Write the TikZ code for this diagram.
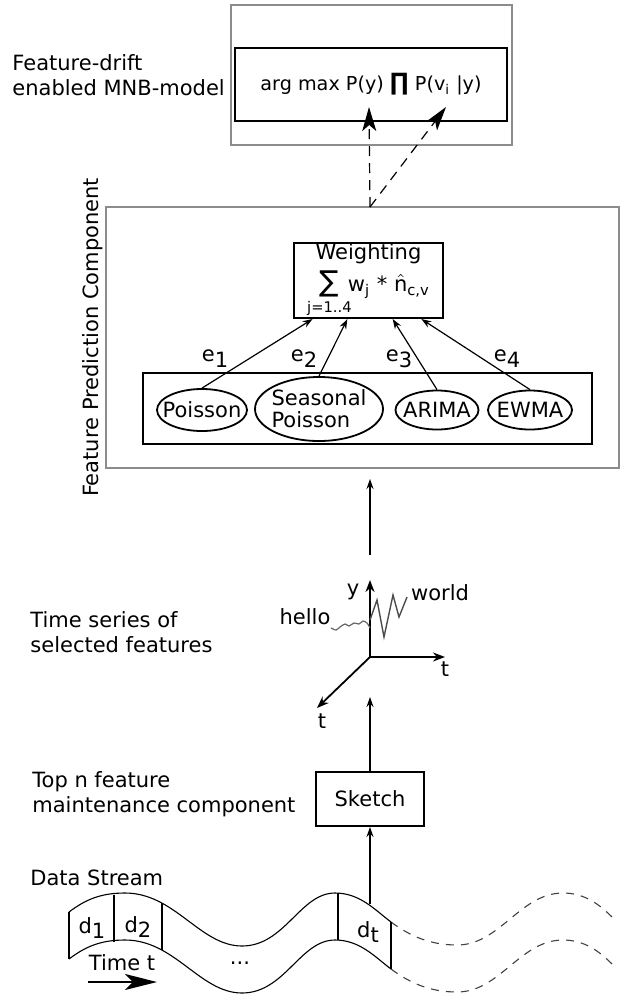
\documentclass[tikz,border=0pt]{standalone}
\usepackage{amsmath}
\usepackage{fontspec}
\setmainfont{DejaVu Sans}
\usetikzlibrary{arrows.meta,shapes.geometric,calc}

\newcommand{\lowsub}[1]{\raisebox{-.28em}{#1}}

\tikzset{
  box/.style={draw, line width=1pt, inner sep=0pt},
  frame/.style={draw=black!45, line width=0.6pt, inner sep=0pt},
  model/.style={draw, ellipse, line width=0.9pt, inner sep=0pt},
  flow/.style={-{Stealth[length=5pt,width=3.5pt]}, line width=0.6pt},
  axis/.style={-{Stealth[length=6pt,width=4.5pt]}, line width=0.9pt},
  drift/.style={-{Stealth[length=12pt,width=7pt,inset=3pt]}, dash pattern=on 5pt off 3.5pt, line width=0.6pt},
  stream/.style={line width=0.55pt},
  sidelabel/.style={align=left, anchor=west, inner sep=0pt}
}

\begin{document}
\begin{tikzpicture}[x=0.5pt,y=-0.5pt,font=\fontsize{10.5pt}{12.5pt}\selectfont]
\useasboundingbox (0,0) rectangle (621,996);

% classifier on top
\node[frame, minimum width=140.5pt, minimum height=70pt] (mnbframe) at (371.5,75) {};
\node[box, minimum width=136pt, minimum height=36.5pt, font=\fontsize{9.6pt}{11pt}\selectfont] (mnb) at (371,84.5)
  {arg max P(y) {\fontsize{12pt}{12pt}\selectfont\bfseries ∏} P(v\textsubscript{i} |y)};
\node[sidelabel] (mnblabel) at (12,75.5) {Feature-drift\\enabled MNB-model};

% feature prediction
\node[frame, minimum width=256.5pt, minimum height=130.5pt] (fpc) at (362.5,337.5) {};
\node[rotate=90, anchor=south, inner sep=1pt] (fpclabel) at (fpc.west) {Feature Prediction Component};
\node[box, minimum width=74.5pt, minimum height=37.5pt, align=center] (weight) at (368.5,280.5)
  {Weighting\\[2.5pt] $\mathop{\text{\Large ∑}}\limits_{\text{j=1..4}}\!$w$_{\text{j}}$ * $\hat{\text{n}}_{\text{c,v}}$};
\node[box, minimum width=224.5pt, minimum height=35.5pt] (models) at (367.5,408.5) {};
\node[model, minimum width=45pt, minimum height=21pt, label=center:Poisson] (poisson) at (202,410) {};
\node[model, minimum width=64pt, minimum height=32pt,
  label={[align=left, font=\fontsize{10.5pt}{11pt}\selectfont]center:Seasonal\\Poisson}] (seasonal) at (319,409) {};
\node[model, minimum width=41.5pt, minimum height=19.5pt, label=center:ARIMA] (arima) at (437,410) {};
\node[model, minimum width=42pt, minimum height=19.5pt, label=center:EWMA] (ewma) at (530,410) {};

\draw[flow] (poisson.north) -- ($(weight.south west)!.13!(weight.south east)$);
\draw[flow] (seasonal.north) -- ($(weight.south west)!.36!(weight.south east)$);
\draw[flow] (arima.north) -- ($(weight.south west)!.66!(weight.south east)$);
\draw[flow] (ewma.north) -- ($(weight.south west)!.85!(weight.south east)$);
\node (e1) at (215,359) {e\lowsub{1}};
\node (e2) at (304,359) {e\lowsub{2}};
\node (e3) at (399,359) {e\lowsub{3}};
\node (e4) at (507,359) {e\lowsub{4}};

\coordinate (fpctop) at (370,207);
\coordinate (tipy) at (369,107);
\coordinate (tipv) at (446,107);
\draw[drift] (fpctop) -- (tipy);
\draw[drift] (fpctop) -- (tipv);

% time series
\node[sidelabel] (tslabel) at (30,632) {Time series of\\selected features};
\coordinate (O) at (370,657);
\draw[axis] (O) -- (370,580);
\draw[axis] (O) -- (445,657);
\draw[axis] (O) -- (317,708);
\node (ylab) at (353,592) {y};
\node (tlab) at (445,669) {t};
\node (tdlab) at (322,721) {t};
\node (hello) at (305,617) {hello};
\node (world) at (440,593) {world};
\draw[black!60, line width=0.6pt] plot[smooth] coordinates
  {(331,628) (336,630) (340,627) (345,624) (349,626) (354,623) (359,624) (363,621) (367,623) (370,628)};
\draw[black!70, line width=0.7pt] (370,620) -- (377,600) -- (384,637) -- (393,595) -- (399,617) -- (407,597);

\coordinate (axtail) at (370,555);
\coordinate (fpcin) at (370,479);
\draw[flow] (axtail) -- (fpcin);

% sketch
\node[sidelabel] (toplabel) at (32,794.5) {Top n feature\\maintenance component};
\node[box, minimum width=54pt, minimum height=27pt] (sketch) at (370,799) {Sketch};
\coordinate (axfoot) at (370,697);
\draw[flow] (sketch.north) -- (axfoot);
\coordinate (dtop) at (370,904);
\draw[flow] (dtop) -- (sketch.south);

% data stream
\node[sidelabel] (dslabel) at (30,878) {Data Stream};
\foreach \dy in {0,47}
  \draw[stream, shift={(0,\dy)}] (69,912) .. controls (85,900) and (100,893) .. (125,893)
    .. controls (175,893) and (200,946) .. (242,946)
    .. controls (285,946) and (300,893) .. (335,893)
    .. controls (360,893) and (375,910) .. (391,922);
\foreach \dy in {0,47}
  \draw[stream, black!75, dash pattern=on 4pt off 3.5pt, shift={(0,\dy)}] (391,922)
    .. controls (410,936) and (430,945) .. (457,945)
    .. controls (500,945) and (520,893) .. (563,893)
    .. controls (585,893) and (600,905) .. (612,917);
\foreach \x/\ya in {69/912,114/895,162/903,338/893,391/922}
  \draw[stream] (\x,\ya) -- ++(0,47);
\node (d1) at (92,928) {d\lowsub{1}};
\node (d2) at (138,927) {d\lowsub{2}};
\node (dt) at (368,932) {d\lowsub{t}};
\node (timet) at (122,963) {Time t};
\node (dots) at (240,963) {...};
\coordinate (tstart) at (88,982);
\coordinate (tend) at (157,982);
\draw[-{Stealth[length=16pt,width=8pt,inset=4pt]}, line width=1pt] (tstart) -- (tend);
\end{tikzpicture}
\end{document}
